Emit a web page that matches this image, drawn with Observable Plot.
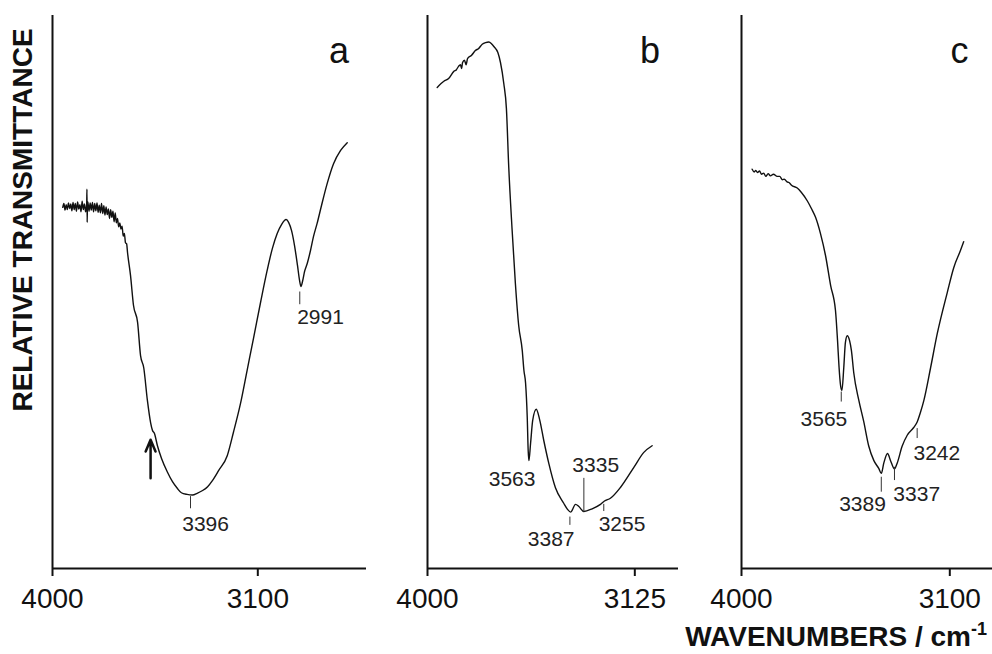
<!DOCTYPE html>
<html><head><meta charset="utf-8">
<script src="https://cdn.jsdelivr.net/npm/d3@7"></script>
<script src="https://cdn.jsdelivr.net/npm/@observablehq/plot@0.6"></script>
<style>
html,body{margin:0;padding:0;background:#fff;}
#wrap{position:relative;width:992px;height:654px;overflow:hidden;font-family:"Liberation Sans",Arial,sans-serif;color:#111;background:#fff;}
#wrap svg{position:absolute;left:0;top:0;}
.ylab{position:absolute;left:23px;top:220px;transform:translate(-50%,-50%) rotate(-90deg);font-weight:bold;font-size:28px;line-height:28px;white-space:nowrap;}
.xlab{position:absolute;right:5px;top:625px;font-weight:bold;font-size:28px;line-height:24px;white-space:nowrap;}
.xlab span{font-size:18px;position:relative;top:-11px;}
</style></head><body>
<div id="wrap"><div class="ylab">RELATIVE TRANSMITTANCE</div><div class="xlab">WAVENUMBERS / cm<span>-1</span></div></div>
<script>
// ---- Panel a ----
const aWave = [3955,3950,3945,3940,3935,3930,3925,3920,3915,3910,3905,3900,3895,3890,3885,3880,3875,3870,3865,3860,3855,3850,3849,3848,3847,3845,3840,3835,3830,3825,3820,3815,3810,3805,3800,3795,3790,3785,3780,3775,3770,3765,3760,3755,3750,3745,3740,3735,3730,3725,3720,3715,3710,3705,3700,3695,3690,3685,3680,3675,3671,3658,3645,3627,3614,3600,3584,3570,3562,3553,3540,3522,3497,3474,3453,3435,3410,3386,3366,3342,3320,3299,3272,3234,3207,3176,3147,3118,3088,3059,3036,3015,2996,2976,2965,2952,2939,2926,2917,2911,2904,2895,2883,2869,2856,2840,2821,2796,2768,2737,2708];
const aT = [65.3,66.0,64.8,65.8,64.9,66.1,65.1,65.9,64.7,66.2,64.9,66.0,64.6,66.3,65.0,65.8,64.5,66.4,64.9,65.9,64.5,66.1,68.6,62.6,65.5,66.3,64.6,66.1,64.8,66.2,64.5,66.0,64.7,66.1,64.4,65.7,64.3,66.0,64.2,65.6,63.9,65.4,64.0,65.0,63.3,64.9,63.5,64.6,62.7,64.3,62.5,63.3,61.8,62.5,61.4,61.9,60.1,60.6,58.9,58.7,57.1,53.0,47.6,44.5,38.5,36.3,30.4,26.4,25.0,24.4,22.2,19.9,17.5,15.7,14.5,13.7,13.4,13.3,13.6,14.1,14.8,15.9,17.7,20.4,24.6,29.8,35.8,41.8,48.1,53.9,57.9,60.6,62.2,63.1,62.6,61.1,58.4,54.8,52.1,51.0,51.9,53.7,55.2,57.5,60.0,62.4,65.6,69.6,73.2,75.6,77.0];
const aLabels = ["3396","2991"];
const aLabelX = [3329, 2825];
const aLabelY = [8.0, 45.4];
const aTickX = [3395, 2916];
const aTickY1 = [10.8, 47.7];
const aTickY2 = [13.0, 50.0];
const aArrow = {x: 3570, y1: 16.3, y2: 23.3};

// ---- Panel b ----
const bWave = [3959,3931,3911,3889,3878,3869,3861,3856,3852,3844,3837,3831,3814,3797,3785,3769,3755,3741,3730,3720,3703,3692,3678,3667,3657,3643,3629,3615,3600,3593,3586,3579,3575,3572,3565,3556,3541,3526,3509,3488,3460,3425,3409,3396,3375,3361,3340,3305,3270,3253,3228,3185,3129,3087,3052];
const bT = [87.0,88.1,88.6,89.9,90.2,90.8,91.1,90.4,91.5,91.9,91.1,92.2,92.8,93.7,94.0,94.8,95.1,95.2,94.9,94.4,93.3,91.5,87.7,83.2,72.5,61.3,51.5,43.9,39.4,35.8,33.5,27.3,21.3,19.5,22.6,26.8,28.8,26.8,23.1,19.0,14.6,11.8,10.7,10.2,11.6,11.2,10.3,10.8,11.6,12.2,12.7,14.7,18.3,21.0,22.2];
const bLabels = ["3563","3335","3387","3255"];
const bLabelX = [3643, 3290, 3478, 3179];
const bLabelY = [16.1, 18.6, 5.2, 8.0];
const bTickX = [3340, 3399, 3256];
const bTickY1 = [10.2, 7.8, 10.3];
const bTickY2 = [16.3, 9.3, 11.6];

// ---- Panel c ----
const cWave = [3954,3945,3938,3931,3922,3914,3904,3895,3885,3875,3862,3846,3835,3823,3815,3803,3795,3784,3759,3741,3716,3698,3680,3659,3637,3615,3594,3585,3579,3572,3566,3558,3551,3543,3533,3525,3515,3493,3472,3450,3428,3407,3396,3385,3369,3356,3339,3327,3306,3284,3256,3241,3227,3212,3183,3154,3111,3083,3054,3040];
const cT = [72.2,71.7,72.0,71.6,71.9,71.3,71.5,70.9,71.4,71.0,71.3,70.9,70.9,70.3,70.4,69.9,69.8,69.3,68.8,68.0,66.5,65.1,63.5,60.6,56.6,51.2,46.7,41.2,36.7,33.1,32.2,36.4,40.9,42.1,41.2,39.4,35.4,30.4,26.6,22.1,19.5,18.1,17.2,19.1,20.8,19.5,18.0,19.1,22.1,24.1,25.5,26.5,28.2,30.4,36.3,42.5,49.9,54.4,57.5,59.1];
const cLabels = ["3565","3389","3337","3242"];
const cLabelX = [3644, 3477, 3243, 3156];
const cLabelY = [26.9, 11.6, 13.4, 20.9];
const cTickX = [3569, 3396, 3339, 3241];
const cTickY1 = [30.1, 13.8, 15.9, 23.5];
const cTickY2 = [31.9, 16.5, 18.3, 25.3];

// panel letters and axis ticks
const letters = ["a", "b", "c"];
const letterX = [2744, 3061, 3058];
const letterY = 93.5;
const axisTicks = [[4000, 3100], [4000, 3125], [4000, 3100]];
const xEnds = [2623.5, 2940.6, 2915.5];

const INK = "#111";
function panel(i, wave, T, labels, labelX, labelY, tickX, tickY1, tickY2, left, right, extra) {
  const data = wave.map((x, k) => ({x, y: T[k]}));
  const ann = labels.map((t, k) => ({t, x: labelX[k], y: labelY[k]}));
  const ticks = tickX.map((x, k) => ({x, y1: tickY1[k], y2: tickY2[k]}));
  return Plot.plot({
    width: 992, height: 654,
    marginLeft: left, marginRight: right, marginTop: 15, marginBottom: 86,
    style: {background: "transparent", overflow: "visible", fontFamily: "'Liberation Sans', Arial, sans-serif", color: INK},
    x: {domain: [4000, xEnds[i]], label: null},
    y: {domain: [0, 100], axis: null},
    marks: [
      Plot.ruleX([4000], {stroke: INK, strokeWidth: 2}),
      Plot.ruleY([0], {stroke: INK, strokeWidth: 2}),
      Plot.axisX(axisTicks[i], {anchor: "bottom", tickSize: 8, tickPadding: 12, fontSize: 28, strokeWidth: 2, color: INK, label: null, tickFormat: d => String(d)}),
      Plot.line(data, {x: "x", y: "y", stroke: INK, strokeWidth: 1.4, curve: "monotone-x"}),
      Plot.ruleX(ticks, {x: "x", y1: "y1", y2: "y2", stroke: "#333", strokeWidth: 1}),
      Plot.text(ann, {x: "x", y: "y", text: "t", fontSize: 21, fill: "#222"}),
      Plot.text([{t: letters[i], x: letterX[i], y: letterY}], {x: "x", y: "y", text: "t", fontSize: 36, fill: INK}),
      ...extra
    ]
  });
}

const wrap = document.getElementById("wrap");
wrap.appendChild(panel(0, aWave, aT, aLabels, aLabelX, aLabelY, aTickX, aTickY1, aTickY2, 52, 626,
  [Plot.arrow([aArrow], {x: "x", y1: "y1", y2: "y2", stroke: INK, strokeWidth: 2.5, headLength: 10, headAngle: 45})]));
wrap.appendChild(panel(1, bWave, bT, bLabels, bLabelX, bLabelY, bTickX, bTickY1, bTickY2, 427, 314, []));
wrap.appendChild(panel(2, cWave, cT, cLabels, cLabelX, cLabelY, cTickX, cTickY1, cTickY2, 741, 0, []));
</script>
</body></html>
